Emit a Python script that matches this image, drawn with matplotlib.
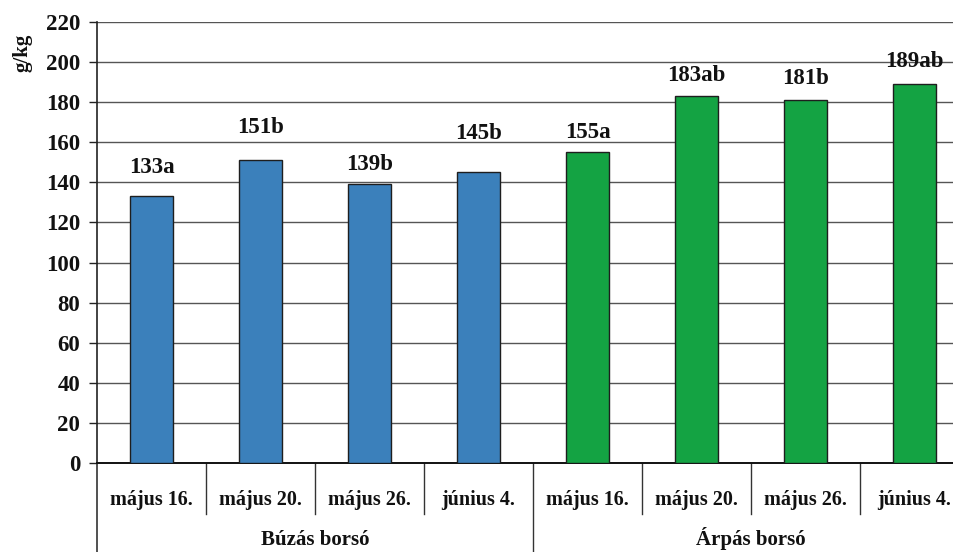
import matplotlib
matplotlib.use("Agg")
import matplotlib.pyplot as plt
import matplotlib.transforms as mtransforms

# Data
dates = ["május 16.", "május 20.", "május 26.", "június 4.",
         "május 16.", "május 20.", "május 26.", "június 4."]
groups = ["Búzás borsó", "Árpás borsó"]
values = [133, 151, 139, 145, 155, 183, 181, 189]
letters = ["a", "b", "b", "b", "a", "ab", "b", "ab"]
colors = ["#3b80bb"] * 4 + ["#14a343"] * 4
yticks = [0, 20, 40, 60, 80, 100, 120, 140, 160, 180, 200, 220]

# vertical gap (points) between bar top and its label baseline
label_gap = [16.5, 20, 10, 24, 10, 11, 11.5, 12]

plt.rcParams["font.family"] = ["Liberation Serif", "DejaVu Serif"]
plt.rcParams["font.weight"] = "bold"

W, H = 954, 552
fig = plt.figure(figsize=(W / 100, H / 100), dpi=100)
left_px, right_px, top_px, bottom_px = 97, 969, 22, 463
ax = fig.add_axes([left_px / W, 1 - bottom_px / H,
                   (right_px - left_px) / W, (bottom_px - top_px) / H])

x = list(range(len(values)))
ax.bar(x, values, width=0.39, color=colors, edgecolor="#1e1e1e",
       linewidth=1.0, zorder=3)

for xi, v, lt, g in zip(x, values, letters, label_gap):
    ax.annotate(f"{v}{lt}", (xi, v), xytext=(0, g), textcoords="offset points",
                ha="center", va="baseline", fontsize=16.5, fontweight="bold",
                color="#111111")

ax.set_xlim(-0.5, len(values) - 0.5)
ax.set_ylim(0, 220)
ax.set_yticks(yticks)
ax.set_yticklabels([str(t) for t in yticks], fontsize=16.5, fontweight="bold",
                   color="#111111")
ax.tick_params(axis="y", length=6, width=1, pad=6, color="#222222")
ax.set_xticks([])
ax.yaxis.grid(True, color="#555555", linewidth=1.0, zorder=0)
ax.set_axisbelow(True)

for s in ["top", "right"]:
    ax.spines[s].set_visible(False)
ax.spines["left"].set_color("#222222")
ax.spines["left"].set_linewidth(1.2)
ax.spines["bottom"].set_color("#111111")
ax.spines["bottom"].set_linewidth(1.4)

ax.set_ylabel("g/kg", fontsize=15, fontweight="bold", color="#111111")
ax.yaxis.set_label_coords(-0.074, 0.93)

# two-level category axis below the plot
trans = mtransforms.blended_transform_factory(ax.transData, ax.transAxes)
for i in range(1, len(values)):
    xb = i - 0.5
    y_end = -0.3 if i == 4 else -0.116
    ax.plot([xb, xb], [0, y_end], transform=trans, color="#333333",
            lw=1.0, clip_on=False)
ax.plot([-0.5, -0.5], [0, -0.3], transform=trans, color="#333333",
        lw=1.2, clip_on=False)

for xi, d in zip(x, dates):
    ax.text(xi, -0.095, d, transform=trans, ha="center", va="baseline",
            fontsize=14.5, fontweight="bold", color="#111111")

for gi, g in enumerate(groups):
    ax.text(gi * 4 + 1.5, -0.197, g, transform=trans, ha="center",
            va="bottom", fontsize=15, fontweight="bold", color="#111111")

fig.savefig("out.png", dpi=100)
